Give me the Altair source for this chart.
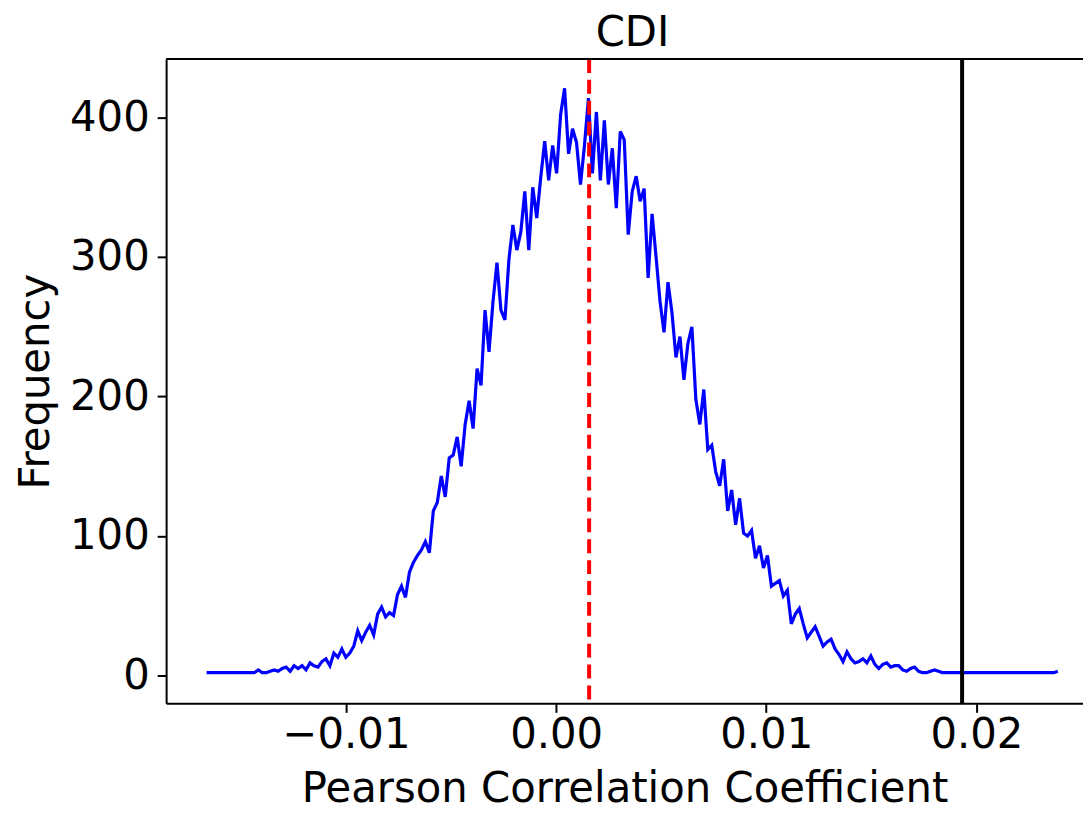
import altair as alt
import numpy as np
import pandas as pd

# ---- data ----
chart_title = "CDI"
x_title = "Pearson Correlation Coefficient"
y_title = "Frequency"

# histogram frequencies, evenly spaced bins from x_first to x_last
freq = [
    2, 2, 2, 2, 2, 2, 2, 2, 2, 2,
    2, 2, 2, 4, 2, 2, 3, 4, 3, 5,
    6, 3, 7, 5, 7, 4, 9, 7, 6, 10,
    12, 7, 16, 13, 19, 13, 16, 21, 32, 25,
    31, 36, 29, 44, 49, 42, 45, 43, 58, 64,
    56, 74, 81, 86, 90, 96, 88, 118, 124, 143,
    128, 156, 158, 171, 150, 180, 197, 177, 220, 208,
    262, 232, 268, 296, 262, 255, 298, 323, 305, 318,
    347, 305, 350, 328, 357, 383, 355, 380, 360, 402,
    421, 374, 392, 382, 352, 380, 414, 360, 404, 355,
    398, 352, 378, 335, 390, 384, 316, 347, 358, 340,
    349, 285, 331, 300, 268, 246, 282, 260, 228, 243,
    212, 238, 250, 198, 180, 205, 162, 165, 146, 136,
    155, 118, 133, 108, 127, 102, 100, 104, 84, 93,
    77, 86, 64, 66, 68, 57, 61, 37, 44, 48,
    37, 27, 31, 35, 28, 21, 24, 26, 19, 15,
    10, 17, 12, 9, 10, 12, 9, 14, 8, 5,
    8, 9, 6, 7, 7, 4, 3, 5, 6, 3,
    2, 2, 3, 4, 3, 2, 2, 2, 2, 2,
    2, 2, 2, 2, 2, 2, 2, 2, 2, 2,
    2, 2, 2, 2, 2, 2, 2, 2, 2, 2,
    2, 2, 2, 2, 3,
]
x_first = -0.016635
x_last = 0.023876

red_line_x = [0.00157]
black_line_x = [0.01932]

x_ticks = [-0.01, 0.0, 0.01, 0.02]
y_ticks = [0, 100, 200, 300, 400]
x_domain = [-0.018561, 0.025074]
y_domain = [-20, 442]

# ---- build ----
df = pd.DataFrame({"coef": np.linspace(x_first, x_last, len(freq)), "freq": freq})
red_df = pd.DataFrame({"x": red_line_x})
black_df = pd.DataFrame({"x": black_line_x})

W, H = 922, 648
FONT = "DejaVu Sans"

xs = alt.Scale(domain=x_domain, nice=False, zero=False)
ys = alt.Scale(domain=y_domain, nice=False, zero=False)

line = alt.Chart(df).mark_line(color="#0000ff", strokeWidth=3.2).encode(
    x=alt.X(
        "coef:Q",
        scale=xs,
        axis=alt.Axis(
            values=x_ticks,
            format=".2f",
            title=x_title,
            labelPadding=2,
            titleBaseline="alphabetic",
            titleY=99,
        ),
    ),
    y=alt.Y(
        "freq:Q",
        scale=ys,
        axis=alt.Axis(
            values=y_ticks,
            format="d",
            title=y_title,
            labelPadding=8,
            titlePadding=12,
        ),
    ),
)

red = alt.Chart(red_df).mark_rule(color="#ff0000", strokeWidth=4, strokeDash=[14, 7]).encode(
    x=alt.X("x:Q", scale=xs)
)
black = alt.Chart(black_df).mark_rule(color="black", strokeWidth=4).encode(
    x=alt.X("x:Q", scale=xs)
)
top_frame = alt.Chart(red_df).mark_rule(color="black", strokeWidth=2).encode(
    x=alt.value(0), x2=alt.value(W), y=alt.value(0)
)

chart = (
    alt.layer(line, red, black, top_frame)
    .properties(
        width=W,
        height=H,
        title=alt.TitleParams(
            chart_title, font=FONT, fontSize=42, fontWeight="normal", color="black",
            anchor="middle", dx=8, offset=2,
        ),
        autosize=alt.AutoSizeParams(type="none"),
        padding={"left": 159, "top": 49, "right": 0, "bottom": 109},
    )
    .configure_view(stroke=None)
    .configure_axis(
        grid=False,
        domainColor="black",
        domainWidth=2,
        tickColor="black",
        tickWidth=2,
        tickSize=9,
        labelFont=FONT,
        labelFontSize=42,
        labelColor="black",
        titleFont=FONT,
        titleFontSize=42,
        titleFontWeight="normal",
        titleColor="black",
    )
)

chart.save("out.html", embed_options={"renderer": "svg", "actions": False})
